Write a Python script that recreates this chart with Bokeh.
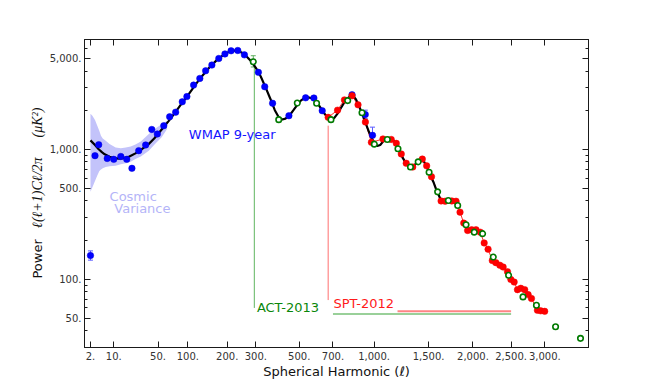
import math
import numpy as np
from bokeh.plotting import figure
from bokeh.layouts import row
from bokeh.models import (FixedTicker, LinearAxis, LogAxis, Label, Range1d,
                          CustomJSTickFormatter, Whisker, TeeHead, ColumnDataSource)
from bokeh.core.properties import value
from bokeh.embed import file_html
from bokeh.resources import INLINE

# ---------------- data ----------------
theory_l = [2, 3, 4, 5, 6, 8, 10, 13, 16, 20, 25, 30, 38, 45, 55, 65, 75, 85, 100, 115,
            130, 150, 170, 190, 205, 220, 235, 250, 265, 280, 290, 300, 310, 320, 340,
            360, 380, 400, 415, 430, 450, 470, 490, 510, 530, 550, 570, 590, 610, 630,
            650, 670, 690, 710, 730, 750, 775, 800, 820, 840, 860, 880, 900, 930, 960,
            985, 1000, 1025, 1050, 1075, 1100, 1125, 1150, 1175, 1200, 1225, 1250, 1275,
            1300, 1325, 1350, 1375, 1400, 1425, 1450, 1475, 1500, 1525, 1550, 1575, 1600, 1630]
theory_D = [1170, 1080, 1000, 950, 915, 875, 855, 848, 855, 880, 930, 990, 1090, 1210,
            1420, 1640, 1890, 2170, 2600, 3100, 3620, 4280, 4880, 5350, 5620, 5760, 5740,
            5520, 5180, 4800, 4530, 4230, 3930, 3620, 2980, 2450, 2000, 1740, 1695, 1720,
            1820, 2000, 2200, 2380, 2480, 2510, 2470, 2360, 2200, 2010, 1850, 1740, 1700,
            1750, 1880, 2050, 2280, 2470, 2580, 2580, 2420, 2180, 1950, 1620, 1350, 1200,
            1120, 1060, 1080, 1150, 1200, 1215, 1200, 1140, 1040, 940, 850, 790, 745, 730,
            740, 780, 820, 840, 810, 750, 680, 615, 560, 500, 455, 405]

band_l = [2, 2.4, 3, 3.6, 4.2, 4.7, 5.3, 6.4, 8, 11, 14, 17.3, 21, 25, 30, 38.5, 46, 55, 63]
band_hi = [1880, 1814, 1680, 1519, 1380, 1273, 1210, 1165, 1100, 1030, 1020, 1030, 1050,
           1090, 1150, 1310, 1440, 1560, 1660]
band_lo = [470, 510, 570, 627, 680, 700, 715, 730, 740, 748, 765, 780, 800, 840, 880,
           976, 1100, 1240, 1430]

wmap_l = [2, 3, 4, 7, 10, 14, 18, 22, 28, 35, 42, 49, 58, 67, 77, 89, 98, 112, 126, 140,
          156, 175, 193, 212, 234, 257, 310, 336, 370, 447, 535, 582, 632, 831, 930, 987]
wmap_D = [152, 893, 1085, 850, 836, 880, 836, 713, 976, 1079, 1420, 1310, 1519, 1780,
          1930, 2320, 2545, 3120, 3510, 4022, 4450, 5000, 5420, 5730, 5760, 5330, 3910,
          3030, 2260, 1812, 2490, 2480, 1981, 2630, 1850, 1280]
wmap_err_l = [2, 930, 987]
wmap_err_lo = [140, 1720, 1100]
wmap_err_hi = [165, 2000, 1480]

act_l = [290, 398, 490, 598, 687, 800, 905, 1002, 1110, 1204, 1320, 1395, 1505, 1595,
         1712, 1818, 1916, 2016, 2120, 2258, 2465, 2670, 2870, 3170, 3588]
act_D = [4720, 1690, 2270, 2260, 1690, 2370, 1910, 1095, 1190, 1010, 730, 800, 665, 470,
         403, 369, 262, 230, 224, 148, 107, 73, 63, 43, 35]
act_err_l = [290]
act_err_lo = [4300]
act_err_hi = [5250]

spt_l = [669, 730, 777, 831, 875, 931, 978, 1073, 1144, 1189, 1234, 1280, 1342, 1436,
         1480, 1530, 1632, 1676, 1750, 1799, 1845, 1889, 1935, 1984, 2037, 2090, 2140,
         2190, 2245, 2292, 2345, 2390, 2450, 2496, 2543, 2590, 2638, 2695, 2745, 2795,
         2885, 2935, 2997]
spt_D = [1760, 2000, 2400, 2580, 2200, 1620, 1130, 1200, 1190, 1110, 920, 780, 730, 840,
         745, 615, 400, 398, 400, 398, 328, 270, 237, 240, 240, 230, 190, 170, 139, 134,
         128, 124, 114, 99.5, 95, 83, 85, 83, 76, 71, 57.6, 57, 56.5]

# experiment range markers (l start/end, level)
act_vline_l = [294, 294]
act_vline_D = [4660, 60]
spt_vline_l = [669, 669]
spt_vline_D = [1520, 69]
spt_hline_l = [1200, 2500]
spt_hline_D = [56.6, 56.6]
act_hline_l = [700, 2500]
act_hline_D = [54, 54]

x_ticks = [2, 10, 50, 100, 200, 300, 500, 700, 1000, 1500, 2000, 2500, 3000]
x_labels = ["2.", "10.", "50.", "100.", "200.", "300.", "500.", "700.", "1,000.",
            "1,500.", "2,000.", "2,500.", "3,000."]
y_ticks = [50, 100, 500, 1000, 5000]
y_labels = ["50.", "100.", "500.", "1,000.", "5,000."]
y_minor = [30, 40, 60, 70, 80, 90, 200, 300, 400, 600, 700, 800, 900, 2000, 3000, 4000, 6000, 7000]

y_title_parts = ["Power", "\u2113(\u2113+1)C\u2113/2\u03c0", "(\u03bcK\u00b2)"]

# ---------------- scale helper (x axis uses l^0.4 spacing) ----------------
PW = 0.4
def tx(l):
    return (np.asarray(l, dtype=float) ** PW).tolist()

H = 386
p = figure(width=562, height=H, output_backend="svg", toolbar_location=None,
           x_range=Range1d(1.014, 26.83), y_range=Range1d(29.76, 7000),
           y_axis_type="log", min_border_left=36, min_border_right=20,
           min_border_top=39, min_border_bottom=39)
p.grid.visible = False
p.outline_line_color = "#1a1a1a"
p.background_fill_color = "white"
p.border_fill_color = "white"

xt = tx(x_ticks)
xfmt = CustomJSTickFormatter(args=dict(t=xt, lab=x_labels), code="""
let b = 0, bd = 1e9;
for (let i = 0; i < t.length; i++) { const d = Math.abs(t[i] - tick); if (d < bd) { bd = d; b = i; } }
return lab[b];
""")
yfmt = CustomJSTickFormatter(args=dict(t=y_ticks, lab=y_labels), code="""
let b = 0, bd = 1e9;
for (let i = 0; i < t.length; i++) { const d = Math.abs(Math.log(t[i]) - Math.log(tick)); if (d < bd) { bd = d; b = i; } }
return lab[b];
""")
xticker = FixedTicker(ticks=xt, minor_ticks=[])
yticker = FixedTicker(ticks=y_ticks, minor_ticks=y_minor)

def style(ax):
    ax.axis_line_color = "#1a1a1a"
    ax.major_tick_line_color = "#1a1a1a"
    ax.minor_tick_line_color = "#1a1a1a"
    ax.major_tick_in = 6
    ax.major_tick_out = 0
    ax.minor_tick_in = 3
    ax.minor_tick_out = 0
    ax.major_label_text_font = "DejaVu Sans"
    ax.major_label_text_font_size = "10px"
    ax.major_label_text_color = "#333333"
    ax.major_label_standoff = 3

xa = p.xaxis[0]
xa.ticker = xticker
xa.formatter = xfmt
style(xa)
xa.major_label_standoff = 4
xa.axis_label = "Spherical Harmonic (\u2113)"
xa.axis_label_text_font = "DejaVu Sans"
xa.axis_label_text_font_style = "normal"
xa.axis_label_text_font_size = "13px"
xa.axis_label_text_color = "#111111"
xa.axis_label_standoff = 1

ya = p.yaxis[0]
ya.ticker = yticker
ya.formatter = yfmt
style(ya)

top = LinearAxis(ticker=xticker)
style(top)
top.major_label_text_font_size = "1px"
top.major_label_text_color = None
top.major_label_standoff = 0
p.add_layout(top, "above")

right = LogAxis(ticker=yticker)
style(right)
right.major_label_text_font_size = "1px"
right.major_label_text_color = None
right.major_label_standoff = 0
p.add_layout(right, "right")

# cosmic variance band
p.varea(x=tx(band_l), y1=band_lo, y2=band_hi, fill_color="#c3c3fa", fill_alpha=1.0)

# range markers
p.line(tx(act_vline_l), act_vline_D, line_color="#3aa23a", line_width=1, line_alpha=0.8)
p.line(tx(spt_vline_l), spt_vline_D, line_color="#ff4040", line_width=1, line_alpha=0.75)
p.line(tx(spt_hline_l), spt_hline_D, line_color="#ff5050", line_width=2, line_alpha=0.7)
p.line(tx(act_hline_l), act_hline_D, line_color="#55b055", line_width=2, line_alpha=0.6)

# SPT connecting line
p.line(tx(spt_l), spt_D, line_color="#ff2a2a", line_width=1)

# theory curve
p.line(tx(theory_l), theory_D, line_color="black", line_width=2.2)

# error bars
wsrc = ColumnDataSource(dict(x=tx(wmap_err_l), lo=wmap_err_lo, hi=wmap_err_hi))
p.add_layout(Whisker(base="x", lower="lo", upper="hi", source=wsrc, dimension="height",
                     line_color="#5a5aff", line_width=1,
                     upper_head=TeeHead(size=5, line_color="#5a5aff"),
                     lower_head=TeeHead(size=5, line_color="#5a5aff")))
asrc = ColumnDataSource(dict(x=tx(act_err_l), lo=act_err_lo, hi=act_err_hi))
p.add_layout(Whisker(base="x", lower="lo", upper="hi", source=asrc, dimension="height",
                     line_color="#60b060", line_width=1,
                     upper_head=TeeHead(size=5, line_color="#60b060"),
                     lower_head=TeeHead(size=5, line_color="#60b060")))

# data points
p.scatter(tx(wmap_l), wmap_D, size=6.5, fill_color="#0000ff", line_color="#0000dd",
          line_width=0.5)
p.scatter(tx(spt_l), spt_D, size=6.5, fill_color="#ff0000", line_color="#ee0000",
          line_width=0.5)
p.scatter(tx(act_l), act_D, size=5.5, fill_color="white", line_color="#007a00",
          line_width=1.6)

# text annotations
def lab(l, D, txt, color, size="13px"):
    p.add_layout(Label(x=tx([l])[0], y=D, text=txt, text_color=color,
                       text_font="DejaVu Sans", text_font_size=size,
                       text_baseline="middle", text_align="left"))

lab(102, 1305, "WMAP 9-year", "#1414ff")
lab(8, 430, "Cosmic", "#b4b4f8")
lab(10.3, 350, "Variance", "#b4b4f8")
lab(304, 61, "ACT-2013", "#0a870a")
lab(703, 65, "SPT-2012", "#ff1a1a")

# y-axis title: narrow companion figure to the left (pixel-based coordinates)
W1 = 46
q = figure(width=W1, height=H, output_backend="svg", toolbar_location=None,
           x_range=Range1d(0, W1), y_range=Range1d(0, H),
           x_axis_location=None, y_axis_location=None, min_border=0)
q.grid.visible = False
q.outline_line_color = None
q.background_fill_color = "white"
q.border_fill_color = "white"
q.text(x=[37], y=[H - 275], text=[y_title_parts[0]], angle=math.pi / 2,
       text_align="center", text_baseline="middle", text_font=value("DejaVu Sans"),
       text_font_size="13px", text_color="#111111")
q.text(x=[36.5], y=[H - 192], text=[y_title_parts[1]], angle=math.pi / 2,
       text_align="center", text_baseline="middle", text_font=value("Liberation Serif"),
       text_font_size="14px", text_font_style="italic", text_color="#111111")
q.text(x=[36.5], y=[H - 104], text=[y_title_parts[2]], angle=math.pi / 2,
       text_align="center", text_baseline="middle", text_font=value("Liberation Serif"),
       text_font_size="14px", text_font_style="italic", text_color="#111111")

layout = row(q, p)
open("out.html", "w").write(file_html(layout, INLINE))
